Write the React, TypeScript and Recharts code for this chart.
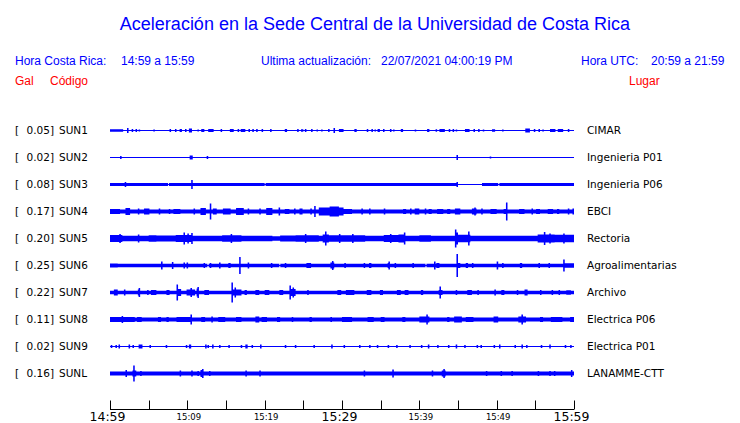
import { ComposedChart, Area, XAxis, YAxis } from 'recharts';

// station list, peak acceleration (Gal) and place
const stations = ['SUN1', 'SUN2', 'SUN3', 'SUN4', 'SUN5', 'SUN6', 'SUN7', 'SUN8', 'SUN9', 'SUNL'];
const peaks = ['0.05', '0.02', '0.08', '0.17', '0.20', '0.25', '0.22', '0.11', '0.02', '0.16'];
const places = [
  'CIMAR', 'Ingenieria P01', 'Ingenieria P06', 'EBCI', 'Rectoria',
  'Agroalimentarias', 'Archivo', 'Electrica P06', 'Electrica P01', 'LANAMME-CTT',
];

// resting half-amplitude of each trace
const baseAmp = [0.5, 0.5, 1.5, 2, 2.7, 1.7, 1.7, 2, 0.5, 2];

// bursts: [minute, amp] or [fromMinute, toMinute, amp]
const sun1Events = [
  [0, 1.7, 1.2], [2.2, 2.5], [2.8, 1.5], [3.3, 1.5], [3.7, 1], [5.6, 1], [7.7, 1.5], [8.4, 1.5],
  [9.0, 9.3, 1.5], [9.7, 1.5], [10.2, 10.6, 2], [11.3, 1], [11.8, 12.2, 1.5], [12.7, 13.4, 1.5],
  [14.3, 1.5], [15.5, 16.0, 1.5], [16.5, 1.5], [16.9, 17.5, 1.5], [17.9, 1.5], [18.4, 1.5],
  [18.9, 1.5], [19.6, 1.5], [20.7, 1.5], [22.6, 22.9, 1.5], [24.2, 1.5], [24.7, 25.0, 1.2],
  [25.2, 1.5], [26.0, 1.5], [26.7, 1], [27.3, 1], [28.2, 1.5], [28.9, 29.1, 2.5], [29.6, 30.2, 1.5],
  [31.6, 31.9, 1.5], [33.2, 1.5], [33.8, 1.5], [34.2, 1], [34.6, 34.9, 1.5], [35.3, 1.5], [36.2, 1.5],
  [36.6, 1], [37.6, 37.9, 1.5], [39.4, 1], [41.0, 41.3, 1.5], [42.1, 42.3, 1.2], [42.6, 43.3, 1.5],
  [43.8, 1.5], [44.3, 1.5], [44.7, 1], [45.9, 46.5, 1.5], [47.0, 1.5], [47.6, 1.5], [48.2, 1],
  [49.4, 49.8, 1.2], [50.7, 1], [53.7, 54.3, 2], [54.8, 1.5], [55.4, 1.5], [55.9, 1],
  [56.9, 57.6, 1.5], [57.9, 58.6, 1.5], [59.2, 1.5],
];
const sun2Events = [[1.3, 1.5], [10.3, 10.7, 2], [12.5, 1.5], [44.8, 2.5], [49.1, 1]];
const sun3Events = [
  [1.9, 2.5], [7.5, 7.62, 0.5], [10.5, 10.7, 4.5], [20.0, 20.12, 0.5], [44.8, 45.0, 2.5],
  [45.0, 48.1, 0.5], [50.2, 50.35, 0.5],
];
const sun4Events = [
  [0, 1.3, 2.5], [2.0, 2.6, 3.5], [3.6, 3], [4.4, 5.1, 3], [6.3, 3], [7.6, 7.8, 2.5], [8.2, 9.1, 2.5],
  [10.8, 3], [11.7, 12.4, 3.5], [12.9, 13.1, 8], [13.3, 13.8, 3], [14.6, 15.6, 3],
  [16.3, 17.3, 3.5], [17.8, 3], [19.3, 3], [20.2, 21.0, 3.5], [21.8, 4], [22.6, 23.2, 2.5],
  [23.8, 3], [24.5, 24.9, 3], [25.9, 26.1, 3], [26.4, 26.6, 5.5], [27.0, 28.4, 4],
  [28.4, 29.6, 5], [29.6, 30.2, 4], [30.2, 31.3, 2.5], [32.5, 3], [33.5, 3], [35.4, 3],
  [37.9, 38.3, 2.5], [38.8, 3], [39.4, 40.0, 3], [40.7, 3], [41.2, 41.6, 2.5], [42.3, 43.1, 2.5],
  [43.6, 44.0, 2.5], [44.6, 45.3, 3], [46.8, 47.4, 3], [47.1, 4], [48.0, 3], [49.2, 50.0, 2.5],
  [50.9, 51.2, 2.5], [51.2, 51.4, 9], [52.9, 53.6, 2.5], [54.5, 3], [55.1, 55.6, 2.5],
  [56.6, 57.3, 2.5], [57.8, 58.1, 2.5], [59.2, 3], [59.8, 3],
];
const sun5Events = [
  [0, 1.6, 3.5], [1.2, 4.5], [3.6, 4], [5.0, 6.0, 3.2], [6.0, 8.5, 3], [8.5, 10.7, 3.5], [9.5, 6],
  [10.0, 5], [10.5, 5.5], [14.5, 17.0, 3.2], [15.6, 4.5], [21.0, 22.0, 2.2], [22.0, 24.0, 3],
  [24.0, 27.0, 3.2], [25.2, 4.5], [27.5, 28.3, 4], [27.8, 7], [28.3, 33.0, 3.2], [29.6, 4.5],
  [31.3, 4.5], [35.4, 37.3, 3.5], [36.2, 4.5], [37.3, 38.2, 4], [38.0, 6], [40.0, 41.5, 3.2],
  [44.6, 44.8, 9], [44.8, 45.0, 6], [45.0, 46.6, 3.8], [46.3, 7], [55.3, 57.5, 4],
  [56.1, 6.5], [56.8, 5], [57.5, 60, 3.8], [58.6, 5],
];
const sun6Events = [
  [0, 1.0, 2], [6.6, 4], [8.0, 8.2, 3.5], [9.5, 3], [9.9, 3], [12.1, 2.5], [12.6, 12.75, 0.5],
  [12.9, 13.1, 2.5], [14.1, 3], [15.3, 15.6, 2.5], [16.7, 16.9, 8.5], [17.8, 3], [20.8, 2.5],
  [21.9, 22.02, 0.5], [22.6, 22.8, 2.5], [25.4, 26.0, 2.5], [28.5, 29.0, 3], [28.7, 4.5], [30.3, 2.5],
  [32.8, 2.5], [33.5, 33.8, 2.5], [35.9, 36.2, 2.5], [36.0, 4], [36.8, 2.5], [39.1, 2.5],
  [40.8, 40.92, 0.5], [41.9, 4], [42.2, 42.6, 2.5], [44.8, 45.0, 11.5], [45.0, 45.3, 2.5],
  [46.0, 46.3, 2.5], [46.8, 2.5], [50.0, 4], [50.7, 2.5], [53.0, 53.3, 2.5], [55.4, 2.5],
  [56.7, 2.5], [58.6, 58.8, 6], [58.8, 60, 2.3],
];
const sun7Events = [
  [0.5, 1.0, 3], [1.8, 3], [3.6, 3.9, 3], [3.7, 4.5], [4.8, 5.0, 2.5], [5.3, 6.0, 2.5],
  [7.3, 7.7, 2.5], [8.6, 8.8, 8], [8.8, 9.2, 3.5], [9.9, 11.0, 3], [10.4, 4.5], [11.2, 11.5, 4],
  [11.3, 5.5], [12.2, 12.8, 2.5], [15.7, 15.9, 10], [15.9, 17.0, 3], [16.1, 5], [17.4, 17.7, 2.5],
  [18.8, 19.3, 2.5], [20.0, 20.6, 2.5], [21.9, 22.4, 2.5], [23.2, 23.4, 7], [23.4, 24.0, 3.5],
  [23.6, 5], [25.5, 2.5], [29.4, 29.9, 2.5], [30.5, 31.6, 2.5], [33.2, 33.8, 2.5],
  [34.9, 35.3, 2.5], [37.1, 37.6, 2.5], [38.1, 38.6, 2.5], [40.2, 40.5, 2.5], [42.5, 43.0, 2.5],
  [42.6, 6], [44.7, 2.5], [46.2, 46.8, 2.5], [47.5, 2.5], [49.7, 3], [50.6, 51.0, 2.5],
  [52.6, 2.5], [53.6, 54.0, 3], [55.6, 2.5], [57.1, 2.5], [58.0, 2.5], [59.0, 59.6, 2.3],
];
const sun8Events = [
  [0, 3.2, 2.6], [1.5, 3.5], [3.5, 4.1, 2.6], [6.2, 6.6, 2.5], [7.3, 7.6, 2.5], [8.6, 10.4, 2.6],
  [10.4, 10.6, 5], [11.8, 12.3, 2.6], [13.1, 13.3, 3], [14.0, 14.9, 2.6], [16.3, 17.0, 2.5],
  [18.8, 19.3, 3], [19.6, 20.3, 2.5], [21.6, 22.0, 2.5], [23.5, 2.5], [25.8, 26.1, 2.5],
  [28.5, 2.5], [30.0, 31.3, 2.5], [33.3, 34.1, 2.6], [35.0, 35.5, 2.5], [37.8, 38.2, 2.6],
  [40.0, 41.3, 3], [40.9, 5], [43.6, 43.9, 2.6], [44.5, 45.5, 3], [46.0, 47.0, 2.5],
  [49.6, 50.2, 3], [52.8, 53.8, 3], [53.2, 5], [55.6, 56.0, 2.5], [57.0, 58.5, 2.6],
  [59.5, 60, 2.6],
];
const sun9Events = [
  [0.1, 1.5], [0.7, 1.5], [1.1, 2], [2.4, 2.6, 2], [2.9, 1.5], [3.7, 4.2, 2], [5.1, 1.5],
  [7.2, 1.5], [9.8, 1.5], [10.2, 10.5, 2], [12.3, 2], [12.6, 1.5], [13.2, 2], [14.1, 1.5],
  [15.3, 1.5], [16.9, 1.5], [17.5, 17.8, 2], [18.3, 1.5], [19.4, 2], [22.6, 1.5], [23.9, 1.5],
  [26.3, 26.5, 1.5], [28.6, 2], [30.2, 1.5], [32.2, 1.5], [33.5, 1.5], [34.5, 1.5], [35.9, 1.5],
  [37.0, 1.5], [38.7, 1.5], [40.2, 1.5], [41.1, 2], [42.3, 1.5], [43.7, 1.5], [44.7, 2],
  [45.8, 1.5], [47.4, 1.5], [47.9, 1.5], [49.6, 1.5], [50.3, 2], [52.3, 1.5], [53.2, 2],
  [53.8, 1.5], [55.7, 1.5], [56.8, 2], [58.8, 1.5], [59.5, 1.5],
];
const sunlEvents = [
  [2.0, 3.5], [2.9, 3.4, 3], [3.0, 3.2, 8], [3.9, 2.5], [9.0, 3], [10.5, 3], [11.3, 2.5],
  [11.7, 12.1, 3.5], [11.9, 4.5], [12.8, 2.5], [17.5, 3], [19.3, 3], [32.8, 3], [36.5, 36.7, 4],
  [41.6, 3], [42.9, 43.4, 3], [43.1, 4.5], [48.6, 2.5], [50.5, 2.5], [51.9, 2.5], [55.3, 2.5],
  [56.8, 2.5], [57.4, 2.5], [59.6, 3.5],
];
const traceEvents = [
  sun1Events, sun2Events, sun3Events, sun4Events, sun5Events,
  sun6Events, sun7Events, sun8Events, sun9Events, sunlEvents,
];

// time axis (minutes after 14:59)
const tickMinutes = [0, 5, 10, 15, 20, 25, 30, 35, 40, 45, 50, 55, 60];
const tickLabels = ['14:59', '', '15:09', '', '15:19', '', '15:29', '', '15:39', '', '15:49', '', '15:59'];
const majorLabels = ['14:59', '15:29', '15:59'];

const ROW = 27;
const ONE_SAMPLE = 0.2;
const BLUE = '#0000ff';
const RED = '#ff0000';

const normalized = traceEvents.map((list) =>
  list.map((e) => (e.length === 2 ? [e[0], e[0] + ONE_SAMPLE, e[1]] : e))
);

const timeSet = new Set<number>([0, 60]);
normalized.forEach((list) =>
  list.forEach(([s, e]) => {
    timeSet.add(s);
    timeSet.add(Math.min(e, 60));
  })
);
const grid = [...timeSet].sort((a, b) => a - b);

const chartData = grid.map((t) => {
  const row: any = { t };
  stations.forEach((name, i) => {
    let amp = baseAmp[i];
    let hit = false;
    let best = 0;
    for (const [s, e, a] of normalized[i]) {
      if (t >= s && t < e) {
        hit = true;
        best = Math.max(best, a);
      }
    }
    if (hit) amp = best;
    const c = ROW * (i + 1);
    row[name] = [c - amp, c + amp];
  });
  return row;
});

const TimeTick = (props: any) => {
  const { x, y, payload } = props;
  const idx = tickMinutes.indexOf(payload.value);
  const label = tickLabels[idx];
  const major = majorLabels.includes(label);
  const lx = Math.round(x) + 0.5;
  return (
    <g>
      <line x1={lx} x2={lx} y1={y - 9} y2={y} stroke="#000" strokeWidth={1} />
      {label && (
        <text
          x={major ? x - 2.5 : x + 1.5}
          y={major ? y + 11.5 : y + 10}
          textAnchor="middle"
          fontFamily="DejaVu Sans"
          fontSize={major ? 12.5 : 8.5}
          fill="#000"
        >
          {label}
        </text>
      )}
    </g>
  );
};

const headFont = 'Liberation Sans, Arial, sans-serif';
const rowFont = 'DejaVu Sans, sans-serif';

export default function App() {
  return (
    <div style={{ position: 'absolute', left: 0, top: 0, width: 740, height: 423, background: '#fff' }}>
      <ComposedChart
        width={740}
        height={423}
        data={chartData}
        margin={{ top: 103.5, right: 166, bottom: 0, left: 110 }}
      >
        <XAxis
          dataKey="t"
          type="number"
          domain={[0, 60]}
          ticks={tickMinutes}
          interval={0}
          height={13.5}
          tickSize={0}
          tickMargin={0}
          tickLine={false}
          axisLine={{ stroke: '#000' }}
          tick={<TimeTick />}
          allowDataOverflow
        />
        <YAxis type="number" domain={[0, 306]} reversed hide allowDataOverflow />
        {stations.map((name) => (
          <Area
            key={name}
            dataKey={name}
            type="stepAfter"
            fill={BLUE}
            fillOpacity={1}
            stroke="none"
            dot={false}
            activeDot={false}
            isAnimationActive={false}
          />
        ))}
      </ComposedChart>

      <svg
        width={740}
        height={423}
        style={{ position: 'absolute', left: 0, top: 0, pointerEvents: 'none' }}
      >
        <text x={375} y={30} textAnchor="middle" fontFamily={headFont} fontSize={18} fill={BLUE}>
          Aceleración en la Sede Central de la Universidad de Costa Rica
        </text>
        <g fontFamily={headFont} fontSize={12} fill={BLUE}>
          <text x={15} y={65}>Hora Costa Rica:</text>
          <text x={121} y={65}>14:59 a 15:59</text>
          <text x={261} y={65}>Ultima actualización:</text>
          <text x={381} y={65}>22/07/2021 04:00:19 PM</text>
          <text x={581} y={65}>Hora UTC:</text>
          <text x={651} y={65}>20:59 a 21:59</text>
        </g>
        <g fontFamily={headFont} fontSize={12} fill={RED}>
          <text x={15} y={85}>Gal</text>
          <text x={50} y={85}>Código</text>
          <text x={629} y={85}>Lugar</text>
        </g>
        <g fontFamily={rowFont} fontSize={10.5} fill="#000">
          {stations.map((name, i) => {
            const by = 134 + ROW * i;
            return (
              <g key={name}>
                <text x={15} y={by}>[</text>
                <text x={54} y={by} textAnchor="end">{peaks[i]}]</text>
                <text x={59} y={by}>{name}</text>
                <text x={587} y={by}>{places[i]}</text>
              </g>
            );
          })}
        </g>
      </svg>
    </div>
  );
}
